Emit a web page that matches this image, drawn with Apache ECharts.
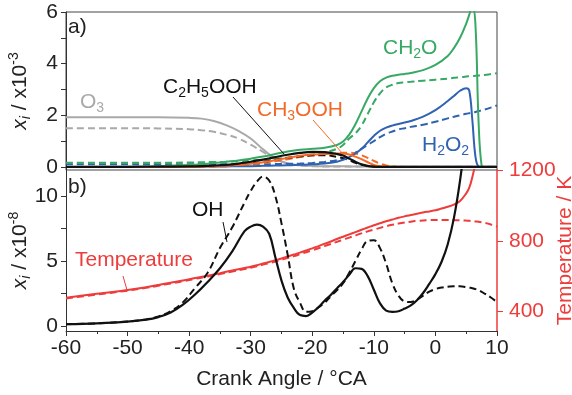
<!DOCTYPE html>
<html>
<head>
<meta charset="utf-8">
<script src="https://cdn.jsdelivr.net/npm/echarts@6/dist/echarts.min.js"></script>
<style>
html, body { margin: 0; padding: 0; background: #fff; }
#main { width: 572px; height: 395px; }
</style>
</head>
<body>
<div id="main"></div>
<script>
// panel a) mole fractions, x10^-3
var angleTop = [-60, -50, -45, -40, -38, -36, -34, -32, -30, -28,
    -26, -24, -22, -20, -18, -16, -15, -14, -13, -12,
    -11, -10, -9, -8, -7, -6, -5, -4, -2, 0,
    2, 3, 4, 5, 5.5, 6, 6.5, 7, 7.5, 8,
    10];
var o3Solid = [1.92, 1.92, 1.92, 1.90, 1.87, 1.78, 1.62, 1.40, 1.10, 0.68,
    0.32, 0.13, 0.06, 0.04, 0.03, 0.03, 0.03, 0.02, 0.02, 0.02,
    0.02, 0.02, 0.02, 0.02, 0.02, 0.02, 0.02, 0.02, 0.02, 0.02,
    0.02, 0.02, 0.02, 0.02, 0.02, 0.02, 0.02, 0.02, 0.02, 0.02,
    0.02];
var o3Dashed = [1.50, 1.50, 1.49, 1.46, 1.42, 1.36, 1.25, 1.10, 0.86, 0.58,
    0.30, 0.13, 0.06, 0.03, 0.02, 0.02, 0.02, 0.02, 0.02, 0.02,
    0.01, 0.01, 0.01, 0.01, 0.01, 0.01, 0.01, 0.01, 0.01, 0.01,
    0.01, 0.01, 0.01, 0.01, 0.01, 0.01, 0.01, 0.01, 0.01, 0.01,
    0.01];
var c2h5oohSolid = [0, 0, 0.01, 0.02, 0.03, 0.05, 0.08, 0.13, 0.20, 0.28,
    0.38, 0.47, 0.54, 0.58, 0.57, 0.50, 0.44, 0.32, 0.20, 0.10,
    0.04, 0.01, 0, 0, 0, 0, 0, 0, 0, 0,
    0, 0, 0, 0, 0, 0, 0, 0, 0, 0,
    0];
var c2h5oohDashed = [0, 0, 0.01, 0.02, 0.03, 0.04, 0.06, 0.09, 0.13, 0.19,
    0.27, 0.35, 0.41, 0.45, 0.45, 0.39, 0.34, 0.26, 0.16, 0.08,
    0.03, 0.01, 0, 0, 0, 0, 0, 0, 0, 0,
    0, 0, 0, 0, 0, 0, 0, 0, 0, 0,
    0];
var ch3oohSolid = [0, 0, 0, 0, 0.01, 0.02, 0.04, 0.07, 0.12, 0.18,
    0.26, 0.35, 0.43, 0.48, 0.50, 0.52, 0.52, 0.48, 0.40, 0.30,
    0.18, 0.08, 0.03, 0.01, 0, 0, 0, 0, 0, 0,
    0, 0, 0, 0, 0, 0, 0, 0, 0, 0,
    0];
var ch3oohDashed = [0, 0, 0, 0, 0.01, 0.02, 0.03, 0.05, 0.10, 0.15,
    0.22, 0.30, 0.38, 0.44, 0.48, 0.52, 0.55, 0.55, 0.52, 0.45,
    0.35, 0.23, 0.13, 0.06, 0.02, 0, 0, 0, 0, 0,
    0, 0, 0, 0, 0, 0, 0, 0, 0, 0,
    0];
var ch2oSolid = [0, 0.01, 0.03, 0.07, 0.10, 0.15, 0.20, 0.25, 0.32, 0.40,
    0.50, 0.60, 0.66, 0.70, 0.74, 0.85, 0.98, 1.25, 1.65, 2.15,
    2.65, 3.05, 3.32, 3.46, 3.53, 3.57, 3.60, 3.64, 3.75, 3.95,
    4.30, 4.60, 5.00, 5.55, 5.90, 6.25, 5.50, 1.80, 0.05, 0,
    0];
var ch2oDashed = [0.16, 0.16, 0.16, 0.17, 0.18, 0.19, 0.20, 0.22, 0.25, 0.28,
    0.32, 0.36, 0.40, 0.48, 0.56, 0.70, 0.85, 1.10, 1.30, 1.60,
    2.05, 2.50, 2.85, 3.08, 3.18, 3.25, 3.28, 3.30, 3.34, 3.38,
    3.42, 3.45, 3.47, 3.50, 3.51, 3.52, 3.53, 3.54, 3.55, 3.56,
    3.63];
var h2o2Solid = [0, 0, 0, 0.01, 0.01, 0.02, 0.02, 0.03, 0.03, 0.04,
    0.05, 0.06, 0.08, 0.10, 0.13, 0.20, 0.27, 0.38, 0.52, 0.70,
    0.95, 1.20, 1.40, 1.52, 1.60, 1.66, 1.72, 1.78, 1.95, 2.20,
    2.55, 2.75, 2.95, 3.05, 2.95, 1.80, 0.40, 0.02, 0, 0,
    0];
var h2o2Dashed = [0.10, 0.10, 0.10, 0.10, 0.10, 0.10, 0.10, 0.10, 0.10, 0.10,
    0.11, 0.12, 0.13, 0.15, 0.19, 0.26, 0.32, 0.42, 0.55, 0.70,
    0.85, 1.00, 1.15, 1.28, 1.37, 1.45, 1.50, 1.55, 1.63, 1.75,
    1.88, 1.94, 2.00, 2.06, 2.08, 2.10, 2.13, 2.16, 2.19, 2.22,
    2.38];

// panel b) OH (x10^-8) and temperature (K)
var angleBot = [-60, -55, -50, -47, -45, -43, -41, -39, -37, -35,
    -33, -31, -30, -29, -28, -27, -26, -25, -24, -23,
    -22, -21, -20, -19, -18, -17, -16, -15, -14, -13,
    -12, -11, -10, -9, -8, -7, -6, -5, -4, -3,
    -2, -1, 0, 1, 2, 3, 4, 5, 5.5, 6,
    6.5, 7, 8, 9, 10];
var ohSolid = [0.15, 0.22, 0.35, 0.50, 0.70, 1.05, 1.65, 2.45, 3.40, 4.45,
    5.75, 7.30, 7.65, 7.80, 7.65, 7.10, 5.30, 3.50, 2.20, 1.40,
    0.85, 0.78, 1.05, 1.45, 1.95, 2.40, 2.90, 3.40, 3.95, 4.45,
    4.40, 3.85, 2.80, 1.75, 1.20, 1.10, 1.15, 1.35, 1.60, 2.00,
    2.55, 3.25, 4.00, 4.95, 6.30, 8.30, 11.2, 15.0, 17.0, 19.0,
    21.0, 23.0, 26.0, 28.0, 30.0];
var ohDashed = [0.15, 0.22, 0.36, 0.52, 0.74, 1.15, 1.85, 2.95, 4.10, 6.00,
    7.60, 9.50, 10.4, 11.1, 11.5, 11.2, 10.0, 7.90, 5.50, 2.90,
    1.80, 1.10, 1.15, 1.45, 1.80, 2.30, 2.75, 3.30, 4.10, 5.00,
    5.90, 6.55, 6.60, 6.00, 4.80, 3.30, 2.35, 1.90, 1.85, 2.05,
    2.35, 2.65, 2.85, 2.97, 3.03, 3.07, 3.07, 3.00, 2.96, 2.92,
    2.85, 2.78, 2.50, 2.20, 1.85];
var tempSolid = [478, 500, 522, 538, 550, 563, 575, 590, 603, 617,
    632, 646, 653, 662, 671, 680, 690, 700, 711, 722,
    733, 745, 757, 770, 783, 796, 810, 823, 836, 849,
    862, 875, 888, 899, 910, 920, 930, 938, 946, 953,
    960, 966, 972, 982, 992, 1004, 1025, 1068, 1100, 1160,
    1245, 1400, 1800, 2000, 2100];
var tempDashed = [474, 496, 518, 534, 546, 559, 571, 585, 598, 612,
    626, 640, 647, 656, 665, 674, 683, 693, 703, 713,
    724, 735, 746, 758, 770, 782, 794, 806, 818, 830,
    842, 853, 863, 873, 882, 890, 897, 903, 908, 912,
    915, 917, 918, 918, 918, 917, 916, 914, 913, 911,
    909, 907, 901, 892, 880];

var topTicks = [0, 1, 2, 3, 4, 5, 6];
var topLabels = [0, 2, 4, 6];
var ohTicks = [0, 2.5, 5, 7.5, 10];
var ohLabels = [0, 5, 10];
var tempLabels = [400, 800, 1200];

var FONT = 'Liberation Sans, Arial, sans-serif';
var GREEN = '#38a965', BLUE = '#2f62b0', ORANGE = '#f26a2a', GRAY = '#a9a9a9', BLACK = '#111', RED = '#ee3b3b';

var myChart = echarts.init(document.getElementById('main'), null, {renderer: 'canvas'});

function pairs(xs, ys) {
    return xs.map(function (x, i) { return [x, ys[i]]; });
}
function curve(xs, ys, color, dashed, xi, yi, w) {
    return {
        type: 'line',
        xAxisIndex: xi,
        yAxisIndex: yi,
        data: pairs(xs, ys),
        symbol: 'none',
        smooth: 0.4,
        clip: true,
        silent: true,
        lineStyle: {color: color, width: w || 2, type: dashed ? [7, 4] : 'solid'}
    };
}
function plain(v) { return String(v); }

var richSub = {
    n: {fontSize: 21, lineHeight: 26, fontFamily: FONT},
    it: {fontSize: 21, lineHeight: 26, fontFamily: FONT, fontStyle: 'italic'},
    s: {fontSize: 14, lineHeight: 14, fontFamily: FONT, verticalAlign: 'bottom'},
    si: {fontSize: 14, lineHeight: 14, fontFamily: FONT, verticalAlign: 'bottom', fontStyle: 'italic'},
    p: {fontSize: 14, lineHeight: 14, fontFamily: FONT, verticalAlign: 'top'}
};

function label(text, x, y, color) {
    return {
        type: 'text', silent: true, z: 100,
        style: {text: text, x: x, y: y, fill: color, font: '21px ' + FONT,
            align: 'left', verticalAlign: 'middle', rich: richSub}
    };
}
function leader(x1, y1, x2, y2, color) {
    return {
        type: 'line', silent: true, z: 100,
        shape: {x1: x1, y1: y1, x2: x2, y2: y2},
        style: {stroke: color, lineWidth: 1}
    };
}

var tickLabelStyle = {fontSize: 21, fontFamily: FONT, color: '#222', formatter: plain};

myChart.setOption({
    animation: false,
    backgroundColor: '#fff',
    grid: [
        {left: 66, right: 75, top: 12, height: 158, outerBoundsMode: 'none', containLabel: false,
            show: true, borderColor: '#444', borderWidth: 1, backgroundColor: 'transparent'},
        {left: 66, right: 75, top: 170, height: 161, outerBoundsMode: 'none', containLabel: false}
    ],
    xAxis: [
        {gridIndex: 0, type: 'value', min: -60, max: 10, show: true,
            axisLine: {show: false}, axisTick: {show: false}, axisLabel: {show: false}, splitLine: {show: false}},
        {gridIndex: 1, type: 'value', min: -60, max: 10, interval: 10,
            axisLine: {show: true, onZero: false, lineStyle: {color: '#333', width: 1}},
            axisTick: {show: true, length: 5, lineStyle: {color: '#333'}},
            minorTick: {show: true, splitNumber: 2, length: 3, lineStyle: {color: '#333'}},
            axisLabel: Object.assign({margin: 7}, tickLabelStyle),
            splitLine: {show: false},
            name: 'Crank Angle / °CA', nameLocation: 'middle', nameGap: 38, nameMoveOverlap: false,
            nameTextStyle: {fontSize: 21, fontFamily: FONT, color: '#222'}}
    ],
    yAxis: [
        {gridIndex: 0, type: 'value', min: -0.12, max: 6,
            axisLine: {show: true, onZero: false, lineStyle: {color: '#333'}},
            axisTick: {show: true, length: 5, customValues: topTicks, lineStyle: {color: '#333'}},
            axisLabel: Object.assign({margin: 8, customValues: topLabels}, tickLabelStyle),
            splitLine: {show: false},
            name: '{it|x}{si|i}{n| / x10}{p|-3}', nameLocation: 'middle', nameRotate: 90, nameGap: 33,
            nameMoveOverlap: false,
            nameTextStyle: {fontSize: 21, fontFamily: FONT, color: '#222', rich: richSub}},
        {gridIndex: 1, type: 'value', min: -0.37, max: 12,
            axisLine: {show: true, onZero: false, lineStyle: {color: '#333'}},
            axisTick: {show: true, length: 5, customValues: ohTicks, lineStyle: {color: '#333'}},
            axisLabel: Object.assign({margin: 8, customValues: ohLabels}, tickLabelStyle),
            splitLine: {show: false},
            name: '{it|x}{si|i}{n| / x10}{p|-8}', nameLocation: 'middle', nameRotate: 90, nameGap: 33,
            nameMoveOverlap: false,
            nameTextStyle: {fontSize: 21, fontFamily: FONT, color: '#222', rich: richSub}},
        {gridIndex: 1, type: 'value', position: 'right', min: 290, max: 1200,
            axisLine: {show: true, onZero: false, lineStyle: {color: RED, width: 1.5}},
            axisTick: {show: true, inside: false, length: 6, customValues: tempLabels, lineStyle: {color: RED}},
            axisLabel: {margin: 12, customValues: tempLabels, fontSize: 21, fontFamily: FONT, color: RED, formatter: plain},
            splitLine: {show: false},
            name: 'Temperature / K', nameLocation: 'middle', nameRotate: 90, nameGap: 58,
            nameMoveOverlap: false,
            nameTextStyle: {fontSize: 21, fontFamily: FONT, color: RED}}
    ],
    series: [
        curve(angleTop, o3Dashed, GRAY, true, 0, 0),
        curve(angleTop, o3Solid, GRAY, false, 0, 0),
        curve(angleTop, h2o2Dashed, BLUE, true, 0, 0),
        curve(angleTop, ch2oDashed, GREEN, true, 0, 0),
        curve(angleTop, ch3oohDashed, ORANGE, true, 0, 0),
        curve(angleTop, c2h5oohDashed, BLACK, true, 0, 0),
        curve(angleTop, h2o2Solid, BLUE, false, 0, 0),
        curve(angleTop, ch2oSolid, GREEN, false, 0, 0),
        curve(angleTop, ch3oohSolid, ORANGE, false, 0, 0),
        curve(angleTop, c2h5oohSolid, BLACK, false, 0, 0, 2.2),
        curve(angleBot, tempDashed, RED, true, 1, 2),
        curve(angleBot, tempSolid, RED, false, 1, 2),
        curve(angleBot, ohDashed, BLACK, true, 1, 1),
        curve(angleBot, ohSolid, BLACK, false, 1, 1, 2.2)
    ],
    graphic: [
        label('{n|a)}', 68, 27, '#222'),
        label('{n|b)}', 68, 187, '#222'),
        label('{n|O}{s|3}', 80, 102, GRAY),
        label('{n|C}{s|2}{n|H}{s|5}{n|OOH}', 163, 87, '#111'),
        label('{n|CH}{s|3}{n|OOH}', 257, 110, ORANGE),
        label('{n|CH}{s|2}{n|O}', 383, 48, GREEN),
        label('{n|H}{s|2}{n|O}{s|2}', 422, 145, BLUE),
        label('{n|OH}', 192, 210, '#111'),
        label('{n|Temperature}', 75, 260, RED),
        leader(233, 97, 284, 154, '#111'),
        leader(313, 120, 343, 154, ORANGE),
        leader(223, 222, 227, 242, '#111'),
        leader(123, 276, 127, 290, RED)
    ]
});

window.addEventListener('resize', function () {
    myChart.resize();
});
</script>
</body>
</html>
